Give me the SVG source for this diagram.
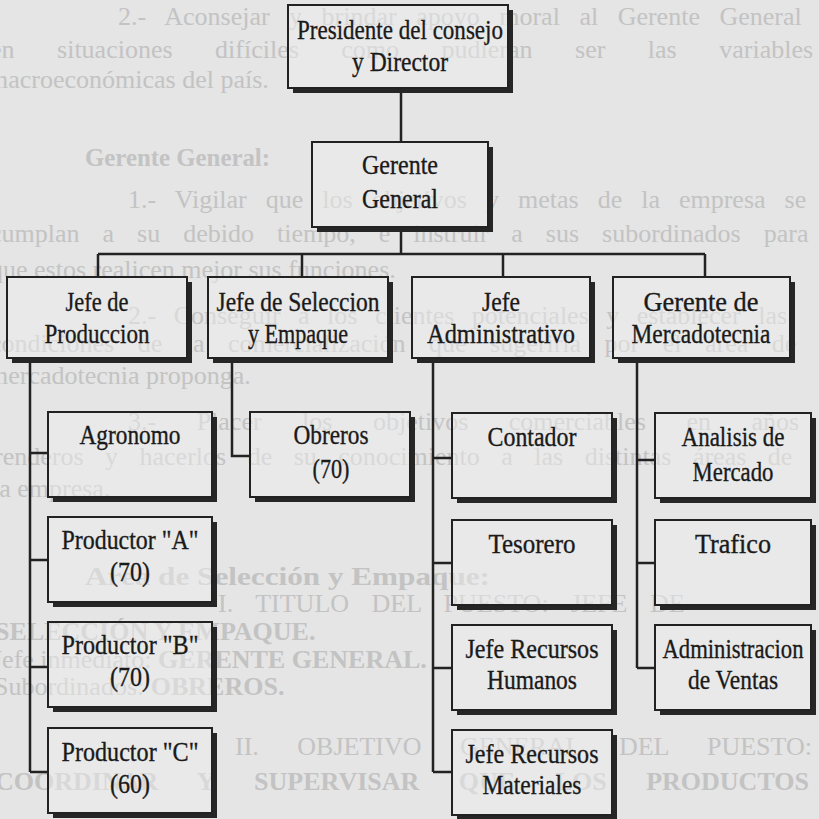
<svg xmlns="http://www.w3.org/2000/svg" width="819" height="819" viewBox="0 0 819 819">
<style>
.bg{fill:#e5e5e5}
.ghost{font-family:"Liberation Serif",serif;font-size:26px;fill:#c3c3c3}
.gb{font-weight:bold}
.sh{fill:#262626}
.bx{fill:#ededed;fill-opacity:0.5;stroke:#222;stroke-width:2}
.t{font-family:"Liberation Serif",serif;font-size:28px;fill:#1a1a1a;stroke:#1a1a1a;stroke-width:0.35;text-anchor:middle}
.ln{stroke:#222;stroke-width:2.5;fill:none}
</style>
<rect class="bg" x="0" y="0" width="819" height="819"/>
<g id="background-text">
<text class="ghost" x="118" y="25" word-spacing="13">2.- Aconsejar y brindar apoyo moral al Gerente General</text>
<text class="ghost" x="-10" y="58" word-spacing="36">en situaciones difíciles como pudieran ser las variables</text>
<text class="ghost" x="-12" y="88">macroeconómicas del país.</text>
<text class="ghost gb" x="85" y="166" textLength="185" lengthAdjust="spacingAndGlyphs">Gerente General:</text>
<text class="ghost" x="128" y="208" word-spacing="12.5">1.- Vigilar que los objetivos y metas de la empresa se</text>
<text class="ghost" x="-10" y="242" word-spacing="16.5">cumplan a su debido tiempo, e instruir a sus subordinados para</text>
<text class="ghost" x="-10" y="278">que estos realicen mejor sus funciones.</text>
<text class="ghost" x="128" y="324" word-spacing="11">2.- Conseguir a los clientes potenciales y establecer las</text>
<text class="ghost" x="-10" y="352" word-spacing="17">condiciones de la comercialización que sugeriría por el área de</text>
<text class="ghost" x="-12" y="384">mercadotecnia proponga.</text>
<text class="ghost" x="128" y="430" word-spacing="34">3.- Placer los objetivos comerciables en años</text>
<text class="ghost" x="-6" y="465" word-spacing="15">renderos y hacerlos de su conocimiento a las distintas áreas de</text>
<text class="ghost" x="-8" y="497">la empresa.</text>
<text class="ghost gb" x="85" y="585" textLength="405" lengthAdjust="spacingAndGlyphs">Area de Selección y Empaque:</text>
<text class="ghost" x="218" y="612" word-spacing="16">I.  TITULO DEL PUESTO: JEFE DE</text>
<text class="ghost gb" x="-5" y="640">SELECCIÓN Y EMPAQUE.</text>
<text class="ghost" x="-8" y="668">Jefe inmediato:  <tspan class="gb">GERENTE GENERAL.</tspan></text>
<text class="ghost" x="-6" y="695">Subordinados:  <tspan class="gb">OBREROS.</tspan></text>
<text class="ghost" x="235" y="755" word-spacing="32">II.  OBJETIVO GENERAL DEL PUESTO:</text>
<text class="ghost gb" x="-5" y="790" word-spacing="33">COORDINAR Y SUPERVISAR QUE LOS PRODUCTOS</text>
</g>
<g id="connectors">
<path class="ln" d="M401 88V142M401 227V254M98 254H705M98 254V277M302 254V277M503 254V277M705 254V277"/>
<path class="ln" d="M30 358V772M30 453H48M30 560H48M30 667H48M30 772H48"/>
<path class="ln" d="M232 358V456H250"/>
<path class="ln" d="M433 358V772M433 458H452M433 563H452M433 668H452M433 772H452"/>
<path class="ln" d="M637 358V668M637 460H655M637 563H655M637 668H655"/>
</g>
<g id="presidente"><path class="sh" d="M508 10h5v83h-220v-5h215z"/><rect class="bx" x="288" y="5" width="220" height="83"/>
<text class="t" x="400" y="39" textLength="206" lengthAdjust="spacingAndGlyphs">Presidente del consejo</text>
<text class="t" x="400" y="71" textLength="96" lengthAdjust="spacingAndGlyphs">y Director</text></g>
<g id="gerente-general"><path class="sh" d="M488 147h5v85h-176v-5h171z"/><rect class="bx" x="312" y="142" width="176" height="85"/>
<text class="t" x="400" y="174" textLength="76" lengthAdjust="spacingAndGlyphs">Gerente</text>
<text class="t" x="400" y="208" textLength="76" lengthAdjust="spacingAndGlyphs">General</text></g>
<g id="jefe-produccion"><path class="sh" d="M187 282h5v81h-180v-5h175z"/><rect class="bx" x="7" y="277" width="180" height="81"/>
<text class="t" x="97" y="311" textLength="63" lengthAdjust="spacingAndGlyphs">Jefe de</text>
<text class="t" x="97" y="343" textLength="105" lengthAdjust="spacingAndGlyphs">Produccion</text></g>
<g id="jefe-seleccion"><path class="sh" d="M388 282h5v81h-180v-5h175z"/><rect class="bx" x="208" y="277" width="180" height="81"/>
<text class="t" x="298" y="311" textLength="163" lengthAdjust="spacingAndGlyphs">Jefe de Seleccion</text>
<text class="t" x="298" y="343" textLength="100" lengthAdjust="spacingAndGlyphs">y Empaque</text></g>
<g id="jefe-administrativo"><path class="sh" d="M590 282h5v81h-178v-5h173z"/><rect class="bx" x="412" y="277" width="178" height="81"/>
<text class="t" x="501" y="311" textLength="38" lengthAdjust="spacingAndGlyphs">Jefe</text>
<text class="t" x="501" y="343" textLength="148" lengthAdjust="spacingAndGlyphs">Administrativo</text></g>
<g id="gerente-mercadotecnia"><path class="sh" d="M790 282h5v81h-177v-5h172z"/><rect class="bx" x="613" y="277" width="177" height="81"/>
<text class="t" x="701" y="311" textLength="115" lengthAdjust="spacingAndGlyphs">Gerente de</text>
<text class="t" x="701" y="343" textLength="139" lengthAdjust="spacingAndGlyphs">Mercadotecnia</text></g>
<g id="agronomo"><path class="sh" d="M212 417h5v85h-164v-5h159z"/><rect class="bx" x="48" y="412" width="164" height="85"/>
<text class="t" x="130" y="444" textLength="101" lengthAdjust="spacingAndGlyphs">Agronomo</text></g>
<g id="productor-a"><path class="sh" d="M212 522h5v85h-164v-5h159z"/><rect class="bx" x="48" y="517" width="164" height="85"/>
<text class="t" x="130" y="549" textLength="137" lengthAdjust="spacingAndGlyphs">Productor "A"</text>
<text class="t" x="130" y="581" textLength="40" lengthAdjust="spacingAndGlyphs">(70)</text></g>
<g id="productor-b"><path class="sh" d="M212 627h5v85h-164v-5h159z"/><rect class="bx" x="48" y="622" width="164" height="85"/>
<text class="t" x="130" y="654" textLength="137" lengthAdjust="spacingAndGlyphs">Productor "B"</text>
<text class="t" x="130" y="686" textLength="40" lengthAdjust="spacingAndGlyphs">(70)</text></g>
<g id="productor-c"><path class="sh" d="M212 733h5v85h-164v-5h159z"/><rect class="bx" x="48" y="728" width="164" height="85"/>
<text class="t" x="130" y="761" textLength="137" lengthAdjust="spacingAndGlyphs">Productor "C"</text>
<text class="t" x="130" y="793" textLength="40" lengthAdjust="spacingAndGlyphs">(60)</text></g>
<g id="obreros"><path class="sh" d="M410 417h5v85h-160v-5h155z"/><rect class="bx" x="250" y="412" width="160" height="85"/>
<text class="t" x="331" y="444" textLength="75" lengthAdjust="spacingAndGlyphs">Obreros</text>
<text class="t" x="331" y="478" textLength="37" lengthAdjust="spacingAndGlyphs">(70)</text></g>
<g id="contador"><path class="sh" d="M612 418h5v85h-160v-5h155z"/><rect class="bx" x="452" y="413" width="160" height="85"/>
<text class="t" x="532" y="446" textLength="89" lengthAdjust="spacingAndGlyphs">Contador</text></g>
<g id="tesorero"><path class="sh" d="M612 525h5v85h-160v-5h155z"/><rect class="bx" x="452" y="520" width="160" height="85"/>
<text class="t" x="532" y="553" textLength="87" lengthAdjust="spacingAndGlyphs">Tesorero</text></g>
<g id="jefe-rh"><path class="sh" d="M612 630h5v85h-160v-5h155z"/><rect class="bx" x="452" y="625" width="160" height="85"/>
<text class="t" x="532" y="658" textLength="133" lengthAdjust="spacingAndGlyphs">Jefe Recursos</text>
<text class="t" x="532" y="689" textLength="90" lengthAdjust="spacingAndGlyphs">Humanos</text></g>
<g id="jefe-rm"><path class="sh" d="M612 735h5v85h-160v-5h155z"/><rect class="bx" x="452" y="730" width="160" height="85"/>
<text class="t" x="532" y="763" textLength="133" lengthAdjust="spacingAndGlyphs">Jefe Recursos</text>
<text class="t" x="532" y="794" textLength="99" lengthAdjust="spacingAndGlyphs">Materiales</text></g>
<g id="analisis-mercado"><path class="sh" d="M811 418h5v85h-156v-5h151z"/><rect class="bx" x="655" y="413" width="156" height="85"/>
<text class="t" x="733" y="446" textLength="103" lengthAdjust="spacingAndGlyphs">Analisis de</text>
<text class="t" x="733" y="481" textLength="81" lengthAdjust="spacingAndGlyphs">Mercado</text></g>
<g id="trafico"><path class="sh" d="M811 525h5v85h-156v-5h151z"/><rect class="bx" x="655" y="520" width="156" height="85"/>
<text class="t" x="733" y="553" textLength="76" lengthAdjust="spacingAndGlyphs">Trafico</text></g>
<g id="admin-ventas"><path class="sh" d="M811 630h5v85h-156v-5h151z"/><rect class="bx" x="655" y="625" width="156" height="85"/>
<text class="t" x="733" y="658" textLength="141" lengthAdjust="spacingAndGlyphs">Administracion</text>
<text class="t" x="733" y="689" textLength="90" lengthAdjust="spacingAndGlyphs">de Ventas</text></g>
</svg>
